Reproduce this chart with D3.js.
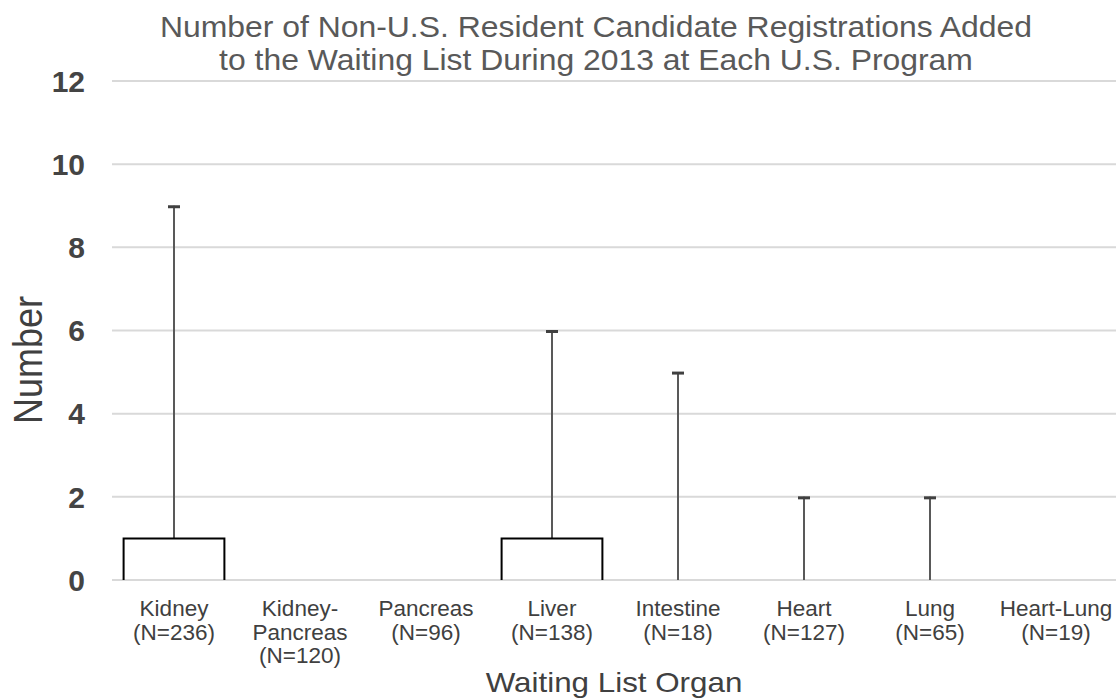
<!DOCTYPE html>
<html><head><meta charset="utf-8">
<script src="https://cdn.jsdelivr.net/npm/d3@7"></script>
<style>body{margin:0;background:#fff;}svg{display:block;font-family:"Liberation Sans",Arial,sans-serif;}</style>
</head><body><svg id="c" width="1116" height="700"></svg>
<script>
const categories = ["Kidney","Kidney-Pancreas","Pancreas","Liver","Intestine","Heart","Lung","Heart-Lung"];
const catLabels = [["Kidney","(N=236)"],["Kidney-","Pancreas","(N=120)"],["Pancreas","(N=96)"],["Liver","(N=138)"],["Intestine","(N=18)"],["Heart","(N=127)"],["Lung","(N=65)"],["Heart-Lung","(N=19)"]];
const boxLow  = [0,0,0,0,0,0,0,0];
const boxHigh = [1,0,0,1,0,0,0,0];
const whiskerMax = [9,0,0,6,5,2,2,0];
const yTicks = [0,2,4,6,8,10,12];
const titleLines = ["Number of Non-U.S. Resident Candidate Registrations Added","to the Waiting List During 2013 at Each U.S. Program"];

const svg = d3.select("#c");
const x = d3.scaleBand().domain(categories).range([111,1119]).padding(0);
const y = d3.scaleLinear().domain([0,12]).range([580,81]);

// grid
svg.append("g").selectAll("line").data(yTicks).join("line")
  .attr("x1",112).attr("x2",1116).attr("y1",d=>y(d)).attr("y2",d=>y(d))
  .attr("stroke","#d9d9d9").attr("stroke-width",2);

// y labels
svg.append("g").selectAll("text").data(yTicks).join("text")
  .attr("x",85).attr("y",d=>y(d)).attr("dy","0.36em").attr("text-anchor","end")
  .attr("font-size",30).attr("font-weight","bold").attr("fill","#444").text(d=>d);

const data = categories.map((c,i)=>({c,lo:boxLow[i],hi:boxHigh[i],mx:whiskerMax[i]}));
const cx = d=>x(d.c)+x.bandwidth()/2;
const bw = x.bandwidth()*0.8;

// whiskers
const wg = svg.append("g");
wg.selectAll("line.w").data(data.filter(d=>d.mx>d.hi)).join("line")
  .attr("x1",cx).attr("x2",cx).attr("y1",d=>y(d.hi)).attr("y2",d=>y(d.mx))
  .attr("stroke","#595959").attr("stroke-width",2);
wg.selectAll("line.cap").data(data.filter(d=>d.mx>d.hi)).join("line")
  .attr("x1",d=>cx(d)-6).attr("x2",d=>cx(d)+6).attr("y1",d=>y(d.mx)+1).attr("y2",d=>y(d.mx)+1)
  .attr("stroke","#404040").attr("stroke-width",3);

// boxes (open bottom)
svg.append("g").selectAll("path").data(data.filter(d=>d.hi>d.lo)).join("path")
  .attr("d",d=>{const l=cx(d)-bw/2,r=cx(d)+bw/2;return `M${l},${y(d.lo)}V${y(d.hi)}H${r}V${y(d.lo)}`;})
  .attr("fill","none").attr("stroke","#000").attr("stroke-width",2);

// x labels
const xl = svg.append("g").selectAll("text").data(catLabels).join("text")
  .attr("text-anchor","middle").attr("font-size",22.5).attr("fill","#404040")
  .attr("transform",(d,i)=>`translate(${x(categories[i])+x.bandwidth()/2},616)`);
xl.selectAll("tspan").data(d=>d).join("tspan").attr("x",0).attr("y",(d,i)=>i*23.5).text(d=>d);

// titles
svg.append("g").selectAll("text").data(titleLines).join("text")
  .attr("text-anchor","middle").attr("font-size",29).attr("fill","#595959")
  .attr("transform",(d,i)=>`translate(596,${37+i*33}) scale(1.1,1)`).text(d=>d);
svg.append("text").attr("transform","translate(614,692) scale(1.12,1)").attr("text-anchor","middle").attr("font-size",28).attr("fill","#404040").text("Waiting List Organ");
svg.append("text").attr("transform","translate(42,360) scale(1.15,1) rotate(-90)").attr("text-anchor","middle").attr("font-size",36).attr("fill","#404040").text("Number");
</script></body></html>
